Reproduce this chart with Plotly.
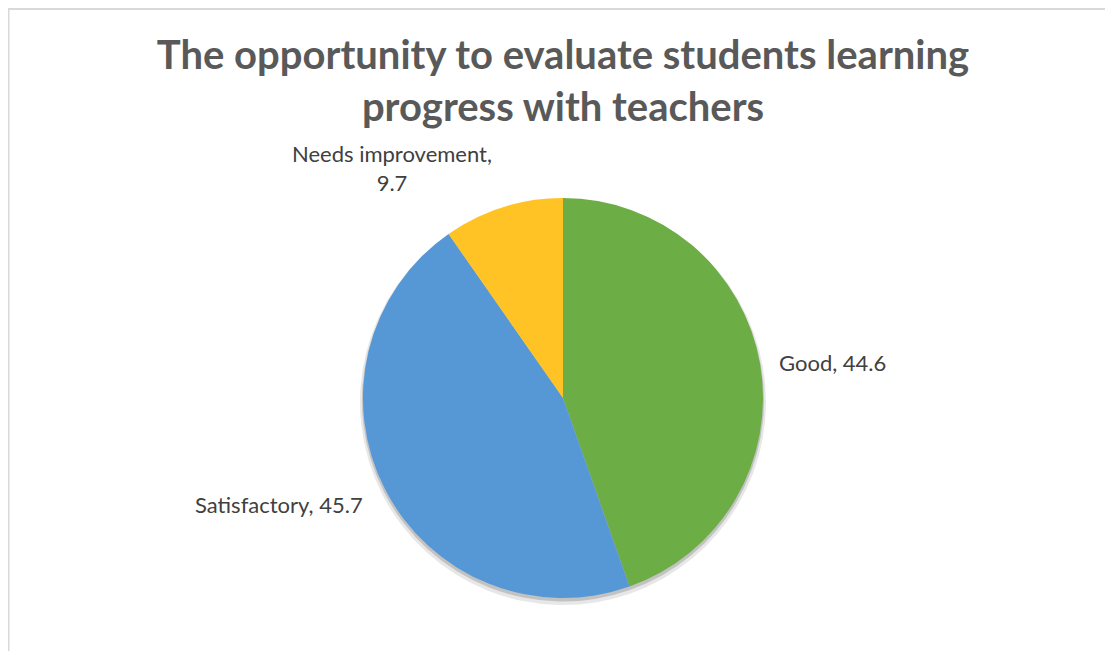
import plotly.graph_objects as go

categories = ["Good", "Satisfactory", "Needs improvement"]
values = [44.6, 45.7, 9.7]
colors = ["#6DAD45", "#5698D6", "#FFC325"]
title_text = "The opportunity to evaluate students learning<br>progress with teachers"

W, H = 1113, 651
OFF = 8  # page body offset
cx, cy, r = 563 - OFF, 398 - OFF, 200

def px_x(x):
    return x / W

def px_y(y):
    return 1 - y / H

fig = go.Figure()

# soft shadow under the pie
fig.add_trace(go.Pie(
    labels=categories, values=values, sort=False, direction="clockwise", rotation=0,
    marker=dict(colors=["rgba(120,120,120,0.18)"] * len(values), line=dict(width=0)),
    textinfo="none", hoverinfo="skip", showlegend=False,
    domain=dict(x=[px_x(cx - r - 3), px_x(cx + r + 3)], y=[px_y(cy + r + 7), px_y(cy - r + 1)]),
))
fig.add_trace(go.Pie(
    labels=categories, values=values, sort=False, direction="clockwise", rotation=0,
    marker=dict(colors=["rgba(110,110,110,0.30)"] * len(values), line=dict(width=0)),
    textinfo="none", hoverinfo="skip", showlegend=False,
    domain=dict(x=[px_x(cx - r - 1), px_x(cx + r + 1)], y=[px_y(cy + r + 4), px_y(cy - r + 1)]),
))

fig.add_trace(go.Pie(
    labels=categories, values=values, sort=False, direction="clockwise", rotation=0,
    marker=dict(colors=colors, line=dict(width=0)),
    textinfo="none", showlegend=False,
    domain=dict(x=[px_x(cx - r), px_x(cx + r)], y=[px_y(cy + r), px_y(cy - r)]),
))

label_font = dict(family="Lato, Calibri, sans-serif", size=22, color="#404040")
label_pos = {
    "Good": (832 - OFF, 362 - OFF),
    "Satisfactory": (279 - OFF, 504 - OFF),
    "Needs improvement": (392 - OFF, 168 - OFF),
}
for cat, val in zip(categories, values):
    x, y = label_pos[cat]
    if cat == "Needs improvement":
        txt = f"{cat},<br>{val}"
    else:
        txt = f"{cat}, {val}"
    fig.add_annotation(x=px_x(x), y=px_y(y), xref="paper", yref="paper", text=txt,
                       showarrow=False, font=label_font, xanchor="center", yanchor="middle",
                       align="center")

# chart border (light grey)
fig.add_shape(type="rect", xref="paper", yref="paper",
              x0=px_x(0.5), x1=px_x(W + 20), y0=px_y(H + 20), y1=px_y(1),
              line=dict(color="#D9D9D9", width=2), fillcolor="rgba(0,0,0,0)", layer="below")

fig.update_layout(
    width=W, height=H,
    margin=dict(l=0, r=0, t=0, b=0),
    paper_bgcolor="white", plot_bgcolor="white",
    title=dict(text=title_text, x=px_x(563 - OFF), xanchor="center", xref="paper",
               y=1 - (69 - OFF) / H, yanchor="middle", yref="container",
               font=dict(family="Lato, Calibri, sans-serif", size=40, color="#595959", weight="bold")),
)

fig.write_html("out.html")
